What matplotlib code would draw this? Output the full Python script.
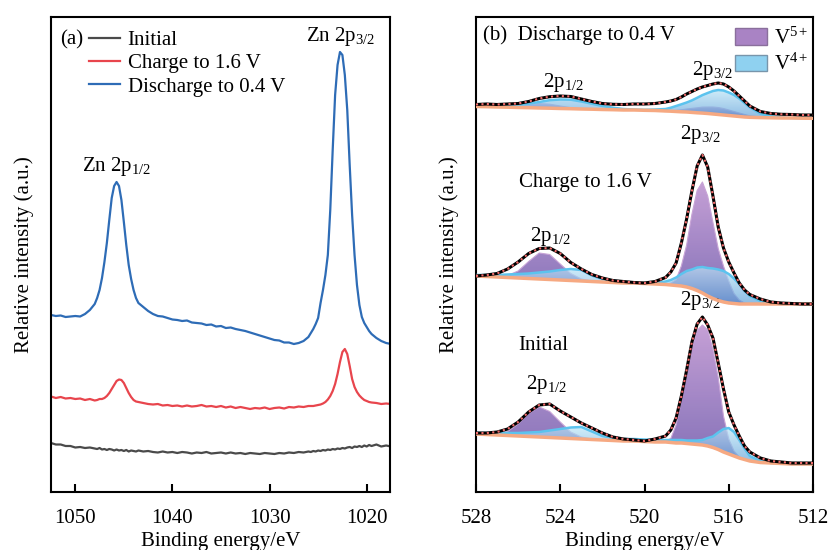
import numpy as np
import matplotlib
matplotlib.use("Agg")
import matplotlib.pyplot as plt
from matplotlib.colors import LinearSegmentedColormap
from matplotlib.patches import Patch

plt.rcParams['font.family'] = ['Liberation Serif', 'DejaVu Serif']
plt.rcParams['mathtext.fontset'] = 'custom'
plt.rcParams['mathtext.rm'] = 'Liberation Serif'
plt.rcParams['mathtext.it'] = 'Liberation Serif:italic'
plt.rcParams['font.size'] = 15

# ---- (a) Zn 2p survey, binding energy grid (eV) ----
be_zn = np.r_[np.arange(1052.5, 1047.9, -0.5), np.arange(1047.75, 1043.4, -0.25),
              np.arange(1043.0, 1025.9, -0.5), np.arange(1025.75, 1019.4, -0.25),
              np.arange(1019.0, 1017.4, -0.5)]

zn_initial = [49, 47.5, 47.5, 46, 46, 44.5, 45, 44, 44.5, 43.5,
              43, 44, 42.5, 43, 42, 43, 42.5, 41.5, 42.5, 41.5, 42, 41, 42, 40.5, 41.5, 41, 40.5, 41.5,
              40.5, 41, 40, 39.5, 40.5, 39.5, 40, 39, 40, 39.5, 38.5, 39.5, 39, 40, 38.5, 39, 39.5,
              38.5, 39.5, 38.5, 39, 38, 39, 38.5, 38, 39, 38.5, 38, 39, 38.5, 39.5, 39, 40, 39.5, 40.5,
              40, 41, 40.5, 41.5, 41, 42, 41.5, 42.5, 42, 43, 42.5, 43.5, 43, 44, 43.5, 44.5, 45, 44,
              45.5, 45, 46, 45, 46.5, 45.5, 47, 46,
              47.5, 45.5, 46.5, 45.5]
zn_charge = [95.5, 94, 95, 93.5, 94, 93, 93.5, 92, 93, 91.5,
             92, 93, 93, 94, 96, 99, 103, 107, 111, 112.5, 112, 109, 104, 99, 95, 92, 90.5, 90,
             89, 88, 87.5, 88, 86.5, 87, 86, 86.5, 85.5, 86.5, 85.5, 86, 87, 85.5, 86, 85, 86, 84.5,
             85.5, 84, 85, 84, 83, 84, 83.5, 84.5, 83, 84, 84.5, 83.5, 85, 84.5, 85.5, 85, 86,
             86, 86, 86.5, 87, 87.5, 88.5, 90, 92.5, 96, 101, 108, 118, 130, 140, 143, 138, 126,
             113, 105, 100, 96.5, 94, 92, 91, 90, 89.5,
             89, 88, 88.5, 88]
zn_discharge = [177, 176, 176.5, 175, 175.5, 176, 175.5, 178, 182, 188,
                194, 202, 214, 230, 249, 272, 294, 306, 310, 306, 292, 270, 247, 227, 213, 202, 194, 189,
                185, 181, 178, 176, 175.5, 174, 172.5, 172, 171, 171.5, 169.5, 169, 168.5, 167, 167.5,
                165.5, 166, 164, 164.5, 163, 162, 161, 159.5, 158, 156.5, 155, 153.5, 152, 151.5,
                149.5, 149.5, 148, 149, 151, 155,
                159, 163, 168, 174, 189, 202, 217, 237, 282, 342, 397, 427, 440, 437, 417, 382, 327,
                277, 237, 207, 187, 175, 169, 165, 161, 158,
                154, 151, 149, 148]
zn_labels = ['Initial', 'Charge to 1.6 V', 'Discharge to 0.4 V']
zn_colors = ['#4a4a4a', '#e8454d', '#2e6cb6']

# ---- (b) V 2p fits ----
be_v = [528, 527.5, 527, 526.5, 526, 525.5, 525, 524.5, 524, 523.5, 523, 522.5, 522, 521.5,
        521, 520.5, 520, 519.5, 519, 518.75, 518.5, 518.25, 518, 517.75, 517.5, 517.25, 517,
        516.75, 516.5, 516.25, 516, 515.75, 515.5, 515.25, 515, 514.5, 514, 513.5, 513, 512.5, 512]

init_data = [31, 31, 32, 35, 42, 52, 59, 60, 53, 47, 41, 36, 31, 27, 25, 24, 23, 25, 28, 34, 46,
             68, 94, 122, 140, 147, 139, 126, 101, 75, 52, 39, 28, 18, 12, 6, 3, 2, 1, 1, 1]
init_bg = [30, 29.5, 29, 28.5, 28, 27.5, 27, 26.5, 26, 25.5, 25, 24.5, 24, 23.5, 23, 23, 22.5, 22,
           22, 21.5, 21, 21, 20.5, 20, 19.5, 19, 18, 16.5, 14.5, 12, 10, 8, 6, 4.5, 3, 1.5, 1, 0.5,
           0, 0, 0]
init_v5 = [0, 0, 1, 4, 12, 23, 30, 26, 16, 6.5, 2, 0.5, 0, 0, 0, 0, 0, 0, 1, 4, 18, 42, 70, 96,
           114, 120, 116, 98, 72, 36, 15, 5, 1, 0, 0, 0, 0, 0, 0, 0, 0]
init_v4 = [1, 1.5, 2, 2.5, 3, 4, 5, 7, 9, 11, 12, 8, 4, 2.5, 2, 2, 2, 2, 2, 2.5, 3, 3, 3, 3.5, 4,
           5, 8, 11, 17, 23, 26, 24, 18, 11, 5, 1.5, 0, 0, 0, 0, 0]

charge_data = [28, 29, 30.5, 35, 42, 50.5, 55.5, 56, 50.5, 41.5, 35, 29.5, 26, 23.5, 22.5, 21.5,
               21, 22.5, 26.5, 32, 41, 61, 85, 113, 138, 149, 137, 108, 77, 56, 42, 31, 21, 14,
               9.5, 5, 2, 1, 0.5, 0, 0]
charge_bg = [28, 27.5, 27, 26.5, 26, 25.5, 25, 24.5, 24, 23.5, 23, 22.5, 22, 21.5, 21, 21, 20.5,
             20, 19.5, 19, 18.5, 18, 17, 15.5, 13.5, 11, 8, 5.5, 3.5, 2, 1, 0.5, 0, 0, 0, 0, 0, 0,
             0, 0, 0]
charge_v5 = [0, 0, 0, 2, 7, 17, 26, 25, 16, 7, 2, 0.5, 0, 0, 0, 0, 0, 0, 0, 2, 6, 20, 42, 74, 100,
             111, 100, 76, 52, 36, 22, 10, 4, 1, 0, 0, 0, 0, 0, 0, 0]
charge_v4 = [1, 1.5, 2, 3, 4, 5, 6.5, 8, 10, 11.5, 11, 6, 3, 2, 1, 0.5, 0.5, 1, 3, 5, 8, 12, 16,
             19, 23, 26, 28, 30, 31, 31, 29, 25, 20, 13, 8, 3, 1, 0, 0, 0, 0]

dis_data = [13.5, 14, 13.5, 14, 14.5, 16.5, 19.5, 21.3, 22, 21.5, 19, 16.5, 14.5, 13.7, 13.5, 14,
            14, 14.5, 16, 17, 18.5, 21, 24, 26.5, 29, 31, 32.5, 34, 35, 34, 31, 27, 22, 17, 12,
            6.5, 4.5, 3.7, 3.5, 3, 3]
dis_bg = [11.5, 11.3, 11, 10.8, 10.5, 10.3, 10, 9.8, 9.5, 9.3, 9, 8.8, 8.5, 8.3, 8, 8, 7.7, 7.5,
          7, 6.8, 6.5, 6.2, 6, 5.6, 5.2, 4.9, 4.5, 4, 3.5, 3, 2.5, 2, 1.5, 1, 0.7, 0.4, 0.2, 0, 0,
          -0.2, -0.3]
dis_v5 = [0, 0, 0, 0, 0.5, 2.5, 4.5, 4, 2.5, 1, 0.3, 0, 0, 0, 0, 0, 0, 0, 0, 0.5, 1, 2, 3, 4, 5,
          6, 6.5, 7, 7, 6.5, 5.5, 4.5, 3.5, 2.5, 1.5, 0.5, 0, 0, 0, 0, 0]
dis_v4 = [0, 0.5, 1, 1.5, 2.5, 4, 6, 8, 9, 9, 7.5, 5.5, 3.5, 2, 1, 0.5, 0.5, 1, 2, 3.5, 5.5, 7.5,
          9.5, 12, 15, 18, 20.5, 23, 24.5, 24.5, 23, 21, 18, 14, 10, 4, 1.5, 0.5, 0, 0, 0]

v_offsets = [28, 188, 374]


def grad_fill(ax, x, lo, hi, c_top, c_bot, alpha, z):
    poly = ax.fill_between(x, lo, hi, facecolor='none', edgecolor='none', zorder=z)
    grad = np.linspace(0, 1, 256).reshape(-1, 1)
    cmap = LinearSegmentedColormap.from_list('g', [c_bot, c_top])
    im = ax.imshow(grad, aspect='auto', cmap=cmap, origin='lower', alpha=alpha, zorder=z,
                   extent=[min(x), max(x), min(lo), max(hi)], interpolation='bilinear')
    im.set_clip_path(poly.get_paths()[0], transform=ax.transData)


def style_axis(ax):
    for s in ax.spines.values():
        s.set_linewidth(1.5)
    ax.set_yticks([])
    ax.tick_params(axis='x', direction='in', length=6, width=1.5, pad=12, labelsize=15)
    ax.set_xlabel('Binding energy/eV', fontsize=15, labelpad=3)


fig = plt.figure(figsize=(8.31, 5.5), dpi=100)
ax1 = fig.add_axes([51 / 831, 58 / 550, 339 / 831, 475 / 550])
ax2 = fig.add_axes([476 / 831, 58 / 550, 337 / 831, 475 / 550])

# panel a
for ys, lab, col in zip([zn_initial, zn_charge, zn_discharge], zn_labels, zn_colors):
    ax1.plot(be_zn, ys, color=col, lw=1.6, label=lab)
ax1.set_xlim(1052.5, 1017.6)
ax1.set_ylim(0, 475)
ax1.set_xticks([1050, 1040, 1030, 1020])
style_axis(ax1)
ax1.set_ylabel('Relative intensity (a.u.)', fontsize=15, labelpad=12)
ax1.legend(loc='upper left', bbox_to_anchor=(0.112, 0.972), frameon=False, borderpad=0,
           borderaxespad=0, handlelength=1.5, handletextpad=0.35, labelspacing=0.18, fontsize=15)
ax1.text(0.027, 0.952, '(a)', transform=ax1.transAxes, va='center', ha='left', fontsize=15)
ax1.text(1022.7, 456, 'Zn 2p$_{3/2}$', ha='center', va='center', fontsize=15)
ax1.text(1045.7, 326, 'Zn 2p$_{1/2}$', ha='center', va='center', fontsize=15)

# panel b
purple_top, purple_bot = '#c39bd4', '#7d69b4'
blue_top, blue_bot = '#bde6f7', '#5d9fd8'
sets = [(init_data, init_bg, init_v5, init_v4),
        (charge_data, charge_bg, charge_v5, charge_v4),
        (dis_data, dis_bg, dis_v5, dis_v4)]
for (d, bg, v5, v4), off in zip(sets, v_offsets):
    bg_p = np.array(bg) + off
    top5 = bg_p + np.array(v5)
    top4 = bg_p + np.array(v4)
    grad_fill(ax2, be_v, bg_p, top5, purple_top, purple_bot, 0.95, 2)
    ax2.plot(be_v, top5, color='#c7a3d6', lw=0.8, zorder=2.2)
    grad_fill(ax2, be_v, bg_p, top4, blue_top, blue_bot, 0.7, 3)
    ax2.plot(be_v, top4, color='#5cc3ee', lw=1.8, zorder=3.5)
    ax2.plot(be_v, bg_p, color='#f6a982', lw=2.5, zorder=4)
    dp = np.array(d) + off
    ax2.plot(be_v, dp, color='black', lw=2.2, zorder=5)
    ax2.plot(be_v, dp, color='#f26b6b', lw=1.5, ls=(0, (1, 1.6)), zorder=6)

ax2.set_xlim(528, 512)
ax2.set_ylim(0, 475)
ax2.set_xticks([528, 524, 520, 516, 512])
style_axis(ax2)
ax2.set_ylabel('Relative intensity (a.u.)', fontsize=15, labelpad=12)

ax2.text(0.021, 0.962, '(b)  Discharge to 0.4 V', transform=ax2.transAxes, va='center',
         ha='left', fontsize=15)
ax2.text(523.86, 410, '2p$_{1/2}$', ha='center', va='center', fontsize=15)
ax2.text(516.76, 422, '2p$_{3/2}$', ha='center', va='center', fontsize=15)
ax2.text(522.81, 310, 'Charge to 1.6 V', ha='center', va='center', fontsize=15)
ax2.text(524.48, 256, '2p$_{1/2}$', ha='center', va='center', fontsize=15)
ax2.text(517.33, 357, '2p$_{3/2}$', ha='center', va='center', fontsize=15)
ax2.text(524.81, 147, 'Initial', ha='center', va='center', fontsize=15)
ax2.text(524.67, 107, '2p$_{1/2}$', ha='center', va='center', fontsize=15)
ax2.text(517.33, 192, '2p$_{3/2}$', ha='center', va='center', fontsize=15)

handles = [Patch(facecolor='#a983c4', edgecolor='#8a6f9c', lw=1),
           Patch(facecolor='#8fd1f0', edgecolor='#7895ab', lw=1)]
ax2.legend(handles, ['V$^{5+}$', 'V$^{4+}$'], loc='upper right', bbox_to_anchor=(0.985, 0.978),
           frameon=False, borderpad=0, borderaxespad=0, handlelength=1.55, handleheight=0.85,
           handletextpad=0.3, labelspacing=0.25, fontsize=15)

fig.savefig('out.png', dpi=100)
